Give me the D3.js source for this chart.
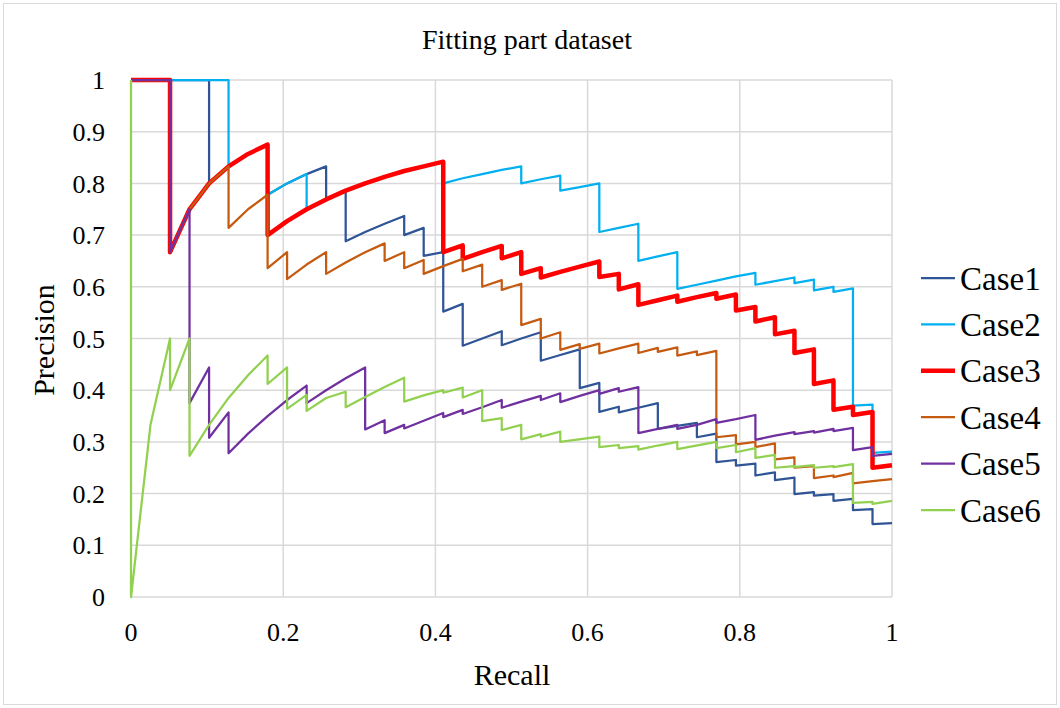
<!DOCTYPE html>
<html>
<head>
<meta charset="utf-8">
<script src="https://cdn.jsdelivr.net/npm/d3@7"></script>
<style>
  body { margin: 0; background: #fff; }
  text { font-family: "Liberation Serif", "Times New Roman", serif; fill: #000; }
</style>
</head>
<body>
<div id="chart"></div>
<script>
// series names and colours
var seriesNames = ["Case1", "Case2", "Case3", "Case4", "Case5", "Case6"];
var seriesColors = ["#2F5597", "#00B0F0", "#FF0000", "#C55A11", "#7030A0", "#92D050"];

var xTicks = [0, 0.2, 0.4, 0.6, 0.8, 1];
var yTicks = [0, 0.1, 0.2, 0.3, 0.4, 0.5, 0.6, 0.7, 0.8, 0.9, 1];

// [recall, precision] points
var case1 = [[0,1],[0.1026,1],[0.1026,0.8],[0.1282,0.833],[0.1538,0.857],[0.1795,0.875],[0.1795,0.778],[0.2051,0.8],[0.2308,0.818],[0.2564,0.833],[0.2564,0.769],[0.2821,0.786],[0.2821,0.688],[0.3077,0.706],[0.3333,0.722],[0.359,0.737],[0.359,0.7],[0.3846,0.714],[0.3846,0.66],[0.4103,0.667],[0.4103,0.552],[0.4359,0.567],[0.4359,0.486],[0.4615,0.5],[0.4872,0.514],[0.4872,0.487],[0.5128,0.5],[0.5385,0.512],[0.5385,0.457],[0.5641,0.468],[0.5897,0.479],[0.5897,0.404],[0.6154,0.414],[0.6154,0.358],[0.641,0.368],[0.641,0.357],[0.6667,0.366],[0.6923,0.375],[0.6923,0.325],[0.7179,0.331],[0.7436,0.337],[0.7436,0.309],[0.7692,0.316],[0.7692,0.261],[0.7949,0.265],[0.7949,0.254],[0.8205,0.258],[0.8205,0.235],[0.8462,0.241],[0.8462,0.226],[0.8718,0.231],[0.8718,0.199],[0.8974,0.203],[0.8974,0.196],[0.9231,0.199],[0.9231,0.186],[0.9487,0.19],[0.9487,0.168],[0.9744,0.17],[0.9744,0.141],[1,0.143]];
var case2 = [[0,1],[0.1282,1],[0.1282,0.833],[0.1538,0.857],[0.1795,0.875],[0.1795,0.778],[0.2051,0.8],[0.2308,0.818],[0.2308,0.75],[0.2564,0.769],[0.2821,0.786],[0.3077,0.8],[0.3333,0.813],[0.359,0.824],[0.3846,0.833],[0.4103,0.842],[0.4103,0.8],[0.4359,0.81],[0.4615,0.818],[0.4872,0.826],[0.5128,0.833],[0.5128,0.8],[0.5385,0.808],[0.5641,0.815],[0.5641,0.786],[0.5897,0.793],[0.6154,0.8],[0.6154,0.706],[0.641,0.714],[0.6667,0.722],[0.6667,0.65],[0.6923,0.659],[0.7179,0.667],[0.7179,0.596],[0.7436,0.604],[0.7692,0.612],[0.7949,0.62],[0.8205,0.627],[0.8205,0.604],[0.8462,0.611],[0.8718,0.618],[0.8718,0.607],[0.8974,0.614],[0.8974,0.593],[0.9231,0.6],[0.9231,0.59],[0.9487,0.597],[0.9487,0.37],[0.9744,0.372],[0.9744,0.279],[1,0.281]];
var case3 = [[0,1],[0.0513,1],[0.0513,0.667],[0.0769,0.75],[0.1026,0.8],[0.1282,0.833],[0.1538,0.857],[0.1795,0.875],[0.1795,0.7],[0.2051,0.727],[0.2308,0.75],[0.2564,0.769],[0.2821,0.786],[0.3077,0.8],[0.3333,0.8125],[0.359,0.824],[0.3846,0.833],[0.4103,0.842],[0.4103,0.667],[0.4359,0.68],[0.4359,0.654],[0.4615,0.667],[0.4872,0.679],[0.4872,0.655],[0.5128,0.667],[0.5128,0.625],[0.5385,0.636],[0.5385,0.618],[0.5641,0.629],[0.5897,0.639],[0.6154,0.649],[0.6154,0.619],[0.641,0.625],[0.641,0.595],[0.6667,0.605],[0.6667,0.565],[0.6923,0.574],[0.7179,0.583],[0.7179,0.571],[0.7436,0.58],[0.7692,0.588],[0.7692,0.577],[0.7949,0.585],[0.7949,0.554],[0.8205,0.561],[0.8205,0.533],[0.8462,0.541],[0.8462,0.508],[0.8718,0.515],[0.8718,0.472],[0.8974,0.479],[0.8974,0.412],[0.9231,0.419],[0.9231,0.362],[0.9487,0.368],[0.9487,0.352],[0.9744,0.358],[0.9744,0.25],[1,0.255]];
var case4 = [[0,1],[0.0513,1],[0.0513,0.667],[0.0769,0.75],[0.1026,0.8],[0.1282,0.833],[0.1282,0.714],[0.1538,0.75],[0.1795,0.778],[0.1795,0.636],[0.2051,0.667],[0.2051,0.615],[0.2308,0.643],[0.2564,0.667],[0.2564,0.625],[0.2821,0.647],[0.3077,0.667],[0.3333,0.684],[0.3333,0.65],[0.359,0.667],[0.359,0.636],[0.3846,0.652],[0.3846,0.625],[0.4103,0.64],[0.4359,0.654],[0.4359,0.63],[0.4615,0.643],[0.4615,0.6],[0.4872,0.613],[0.4872,0.594],[0.5128,0.606],[0.5128,0.526],[0.5385,0.538],[0.5385,0.5],[0.5641,0.512],[0.5641,0.478],[0.5897,0.489],[0.5897,0.48],[0.6154,0.49],[0.6154,0.471],[0.641,0.481],[0.6667,0.49],[0.6667,0.472],[0.6923,0.482],[0.6923,0.474],[0.7179,0.483],[0.7179,0.467],[0.7436,0.475],[0.7436,0.468],[0.7692,0.476],[0.7692,0.309],[0.7949,0.313],[0.7949,0.295],[0.8205,0.3],[0.8205,0.29],[0.8462,0.297],[0.8462,0.266],[0.8718,0.27],[0.8718,0.25],[0.8974,0.253],[0.8974,0.23],[0.9231,0.235],[0.9231,0.232],[0.9487,0.24],[0.9487,0.22],[0.9744,0.224],[1,0.228]];
var case5 = [[0,1],[0.0513,1],[0.0513,0.667],[0.0769,0.75],[0.0769,0.375],[0.1026,0.444],[0.1026,0.308],[0.1282,0.357],[0.1282,0.278],[0.1538,0.316],[0.1795,0.35],[0.2051,0.381],[0.2308,0.409],[0.2308,0.375],[0.2564,0.4],[0.2821,0.423],[0.3077,0.444],[0.3077,0.324],[0.3333,0.342],[0.3333,0.317],[0.359,0.333],[0.359,0.326],[0.3846,0.341],[0.4103,0.356],[0.4103,0.348],[0.4359,0.362],[0.4359,0.354],[0.4615,0.367],[0.4872,0.381],[0.4872,0.366],[0.5128,0.378],[0.5385,0.389],[0.5385,0.381],[0.5641,0.394],[0.5641,0.377],[0.5897,0.389],[0.6154,0.4],[0.6154,0.393],[0.641,0.404],[0.641,0.397],[0.6667,0.406],[0.6667,0.317],[0.6923,0.325],[0.7179,0.333],[0.7179,0.325],[0.7436,0.333],[0.7692,0.344],[0.7692,0.337],[0.7949,0.344],[0.8205,0.352],[0.8205,0.304],[0.8462,0.312],[0.8718,0.319],[0.8718,0.315],[0.8974,0.321],[0.8974,0.318],[0.9231,0.325],[0.9231,0.321],[0.9487,0.327],[0.9487,0.284],[0.9744,0.29],[0.9744,0.273],[1,0.277]];
var case6 = [[0,1],[0,0],[0.0256,0.333],[0.0513,0.5],[0.0513,0.4],[0.0769,0.5],[0.0769,0.273],[0.1026,0.333],[0.1282,0.385],[0.1538,0.429],[0.1795,0.467],[0.1795,0.412],[0.2051,0.444],[0.2051,0.364],[0.2308,0.391],[0.2308,0.36],[0.2564,0.385],[0.2821,0.397],[0.2821,0.367],[0.3077,0.387],[0.3333,0.406],[0.359,0.424],[0.359,0.378],[0.3846,0.39],[0.4103,0.4],[0.4103,0.395],[0.4359,0.405],[0.4359,0.386],[0.4615,0.4],[0.4615,0.34],[0.4872,0.346],[0.4872,0.323],[0.5128,0.333],[0.5128,0.305],[0.5385,0.315],[0.5385,0.31],[0.5641,0.32],[0.5641,0.3],[0.6154,0.31],[0.6154,0.29],[0.641,0.294],[0.641,0.288],[0.6667,0.292],[0.6667,0.285],[0.6923,0.293],[0.7179,0.3],[0.7179,0.286],[0.7692,0.3],[0.7692,0.288],[0.7949,0.294],[0.7949,0.28],[0.8205,0.288],[0.8205,0.269],[0.8462,0.275],[0.8462,0.25],[0.8718,0.253],[0.8718,0.251],[0.8974,0.255],[0.8974,0.25],[0.9231,0.253],[0.9231,0.251],[0.9487,0.257],[0.9487,0.182],[0.9744,0.184],[0.9744,0.18],[1,0.186]];

var seriesData = [case1, case2, case3, case4, case5, case6];
var seriesWidths = [2.25, 2.25, 4.5, 2.25, 2.25, 2.25];

var width = 1060, height = 708;
var plot = { left: 131, right: 892, top: 80, bottom: 597 };

var svg = d3.select("#chart").append("svg")
    .attr("width", width)
    .attr("height", height);

// outer chart border
svg.append("rect")
    .attr("x", 3.5).attr("y", 3.5)
    .attr("width", width - 7).attr("height", height - 7)
    .style("fill", "#fff")
    .style("stroke", "#D9D9D9");

var x = d3.scaleLinear().domain([0, 1]).range([plot.left, plot.right]);
var y = d3.scaleLinear().domain([0, 1]).range([plot.bottom, plot.top]);

// grid lines
svg.append("g").selectAll("line.h")
    .data(yTicks)
    .enter().append("line")
    .attr("x1", plot.left).attr("x2", plot.right)
    .attr("y1", function(d) { return y(d); })
    .attr("y2", function(d) { return y(d); })
    .style("stroke", "#D9D9D9")
    .style("stroke-width", 1.5);

svg.append("g").selectAll("line.v")
    .data(xTicks)
    .enter().append("line")
    .attr("y1", plot.top).attr("y2", plot.bottom)
    .attr("x1", function(d) { return x(d); })
    .attr("x2", function(d) { return x(d); })
    .style("stroke", "#D9D9D9")
    .style("stroke-width", 1.5);

// tick labels
svg.append("g").selectAll("text")
    .data(yTicks)
    .enter().append("text")
    .attr("x", 105)
    .attr("y", function(d) { return y(d); })
    .attr("dy", "0.35em")
    .attr("text-anchor", "end")
    .style("font-size", "26px")
    .text(function(d) { return d; });

svg.append("g").selectAll("text")
    .data(xTicks)
    .enter().append("text")
    .attr("x", function(d) { return x(d); })
    .attr("y", 641)
    .attr("text-anchor", "middle")
    .style("font-size", "26px")
    .text(function(d) { return d; });

// series lines
var line = d3.line()
    .x(function(d) { return x(d[0]); })
    .y(function(d) { return y(d[1]); });

svg.append("g").selectAll("path")
    .data(seriesData)
    .enter().append("path")
    .attr("d", line)
    .style("fill", "none")
    .style("stroke", function(d, i) { return seriesColors[i]; })
    .style("stroke-width", function(d, i) { return seriesWidths[i]; })
    .style("stroke-linejoin", "round");

// titles
svg.append("text")
    .attr("x", 527).attr("y", 49)
    .attr("text-anchor", "middle")
    .style("font-size", "28px")
    .text("Fitting part dataset");

svg.append("text")
    .attr("x", 512).attr("y", 685)
    .attr("text-anchor", "middle")
    .style("font-size", "30px")
    .text("Recall");

svg.append("text")
    .attr("transform", "translate(54,340) rotate(-90)")
    .attr("text-anchor", "middle")
    .style("font-size", "30px")
    .text("Precision");

// legend
var legend = svg.append("g").selectAll("g")
    .data(seriesNames)
    .enter().append("g")
    .attr("transform", function(d, i) { return "translate(921," + (278 + i * 46.4) + ")"; });

legend.append("line")
    .attr("x1", 0).attr("x2", 34)
    .style("stroke", function(d, i) { return seriesColors[i]; })
    .style("stroke-width", function(d, i) { return seriesWidths[i]; });

legend.append("text")
    .attr("x", 39)
    .attr("dy", "0.35em")
    .style("font-size", "33px")
    .text(function(d) { return d; });
</script>
</body>
</html>
